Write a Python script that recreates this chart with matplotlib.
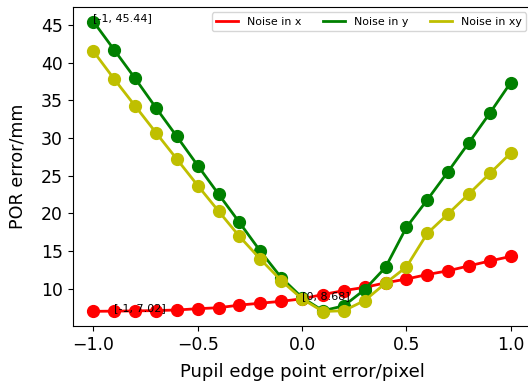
import matplotlib
matplotlib.use("Agg")
import matplotlib.pyplot as plt
import numpy as np

x = [-1.0, -0.9, -0.8, -0.7, -0.6, -0.5, -0.4, -0.3, -0.2, -0.1, 0.0,
     0.1, 0.2, 0.3, 0.4, 0.5, 0.6, 0.7, 0.8, 0.9, 1.0]
noise_x = [7.02, 7.05, 7.08, 7.12, 7.2, 7.37, 7.5, 7.85, 8.1, 8.35, 8.68,
           9.25, 9.77, 10.2, 10.8, 11.3, 11.9, 12.4, 13.05, 13.7, 14.3]
noise_y = [45.44, 41.67, 37.9, 34.0, 30.2, 26.35, 22.55, 18.8, 15.0, 11.5, 8.85,
           7.1, 7.75, 9.9, 12.85, 18.15, 21.8, 25.55, 29.4, 33.3, 37.35]
noise_xy = [41.5, 37.8, 34.25, 30.7, 27.2, 23.7, 20.3, 16.95, 13.95, 11.1, 8.68,
            7.0, 7.1, 8.45, 10.75, 12.9, 17.35, 19.95, 22.6, 25.3, 28.0]
labels = ["Noise in x", "Noise in y", "Noise in xy"]
colors = ["r", "g", "y"]
annotations = [(-1, 45.44, "[-1, 45.44]"), (-0.9, 7.02, "[-1, 7.02]"), (0, 8.68, "[0, 8.68]")]

fig = plt.figure(figsize=(5.28, 3.86), dpi=100)
ax = fig.add_axes([72.5 / 528, 60 / 386, (531.6 - 72.5) / 528, (326 - 7) / 386])

for ys, lab, c in zip([noise_x, noise_y, noise_xy], labels, colors):
    ax.plot(x, ys, color=c, linewidth=2, label=lab)
    ax.plot(x, ys, color=c, marker="o", markersize=8.5, linestyle="none")

for ax_, ay, t in annotations:
    ax.text(ax_, ay, t, fontsize=8)

ax.set_xticks([-1.0, -0.5, 0.0, 0.5, 1.0])
ax.set_yticks([10, 15, 20, 25, 30, 35, 40, 45])
ax.tick_params(labelsize=12.4)
ax.set_xlabel("Pupil edge point error/pixel", fontsize=13, labelpad=7)
ax.set_ylabel("POR error/mm", fontsize=12.6, labelpad=10)
ax.legend(loc="upper right", ncol=3, fontsize=7.9)

fig.savefig("out.png", dpi=100)
